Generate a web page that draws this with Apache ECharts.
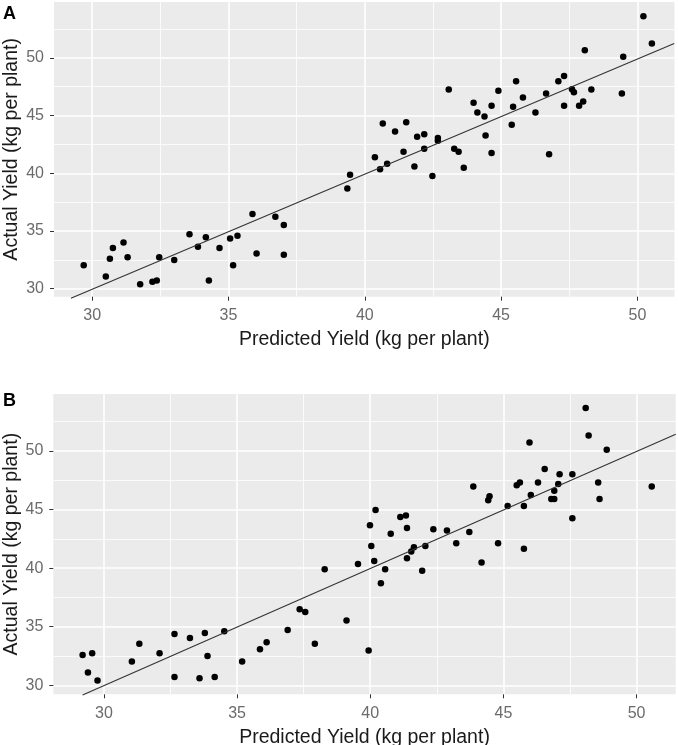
<!DOCTYPE html>
<html>
<head>
<meta charset="utf-8">
<script src="https://cdn.jsdelivr.net/npm/echarts@6/dist/echarts.min.js"></script>
<style>
  html, body { margin: 0; padding: 0; background: #fff; }
  #chart { width: 678px; height: 745px; }
</style>
</head>
<body>
<div id="chart"></div>
<script>
// panel A: predicted vs actual
var predA = [29.69, 30.50, 30.65, 30.76, 31.15, 31.30, 31.76, 32.21, 32.37, 32.46,
  33.01, 33.57, 33.88, 34.17, 34.28, 34.67, 35.06, 35.17, 35.33, 35.88,
  36.03, 36.72, 37.03, 37.03, 39.36, 39.46, 40.37, 40.56, 40.66, 40.82,
  41.11, 41.42, 41.52, 41.82, 41.92, 42.18, 42.18, 42.48, 42.68, 42.68,
  43.08, 43.28, 43.44, 43.63, 43.99, 44.13, 44.39, 44.43, 44.65, 44.65,
  44.90, 45.39, 45.44, 45.55, 45.80, 46.26, 46.65, 46.76, 47.10, 47.31,
  47.31, 47.60, 47.67, 47.86, 48.01, 48.07, 48.31, 49.43, 49.48, 50.22, 50.53]
var actA = [32.03, 31.07, 32.60, 33.52, 34.01, 32.72, 30.38, 30.61, 30.72, 32.72,
  32.48, 34.71, 33.64, 34.45, 30.72, 33.52, 34.36, 32.03, 34.59, 36.47,
  33.06, 36.24, 35.52, 32.95, 38.69, 39.87, 41.40, 40.36, 44.32, 40.83,
  43.62, 41.86, 44.43, 40.59, 43.16, 43.39, 42.12, 39.76, 43.05, 42.82,
  47.26, 42.12, 41.86, 40.48, 46.11, 45.27, 44.92, 43.28, 45.85, 41.75,
  47.15, 44.20, 45.76, 47.98, 46.57, 45.27, 46.92, 41.66, 47.98, 48.44,
  45.85, 47.29, 47.03, 45.85, 46.22, 50.67, 47.26, 46.92, 50.09, 53.61, 51.24]

// panel B
var predB = [29.20, 29.40, 29.56, 29.76, 31.05, 31.33, 32.09, 32.65, 32.65, 33.23,
  33.59, 33.79, 33.89, 34.16, 34.52, 35.19, 35.86, 36.11, 36.90, 37.35,
  37.56, 37.92, 38.29, 39.11, 39.54, 39.94, 39.99, 40.04, 40.15, 40.20,
  40.40, 40.56, 40.77, 41.13, 41.34, 41.38, 41.38, 41.54, 41.64, 41.95,
  42.07, 42.37, 42.88, 43.23, 43.72, 43.87, 44.18, 44.43, 44.48, 44.80,
  45.16, 45.50, 45.62, 45.77, 45.77, 45.98, 46.03, 46.30, 46.55, 46.80,
  46.91, 46.91, 47.06, 47.11, 47.59, 47.59, 48.09, 48.20, 48.56, 48.61, 48.88, 50.57]
var actB = [32.59, 31.08, 32.73, 30.40, 32.02, 33.55, 32.73, 34.38, 30.71, 34.04,
  30.59, 34.46, 32.50, 30.71, 34.61, 32.02, 33.07, 33.67, 34.72, 36.48,
  36.26, 33.55, 39.90, 35.52, 40.35, 32.96, 43.65, 41.89, 40.61, 44.96,
  38.70, 39.90, 42.94, 44.37, 44.48, 43.43, 40.84, 41.41, 41.78, 39.78,
  41.89, 43.31, 43.20, 42.12, 43.09, 46.96, 40.47, 45.79, 46.13, 42.12,
  45.31, 47.07, 47.30, 45.31, 41.66, 50.71, 46.24, 47.30, 48.46, 45.90,
  45.90, 46.61, 47.18, 48.01, 48.01, 44.25, 53.67, 51.31, 47.30, 45.90, 50.11, 46.96]

// fitted line end points
var lineAx = [29.22, 51.35], lineAy = [29.17, 51.25]
var lineBx = [29.20, 51.47], lineBy = [29.17, 51.42]

var majorTicks = [30, 35, 40, 45, 50]
var minorX = [32.5, 37.5, 42.5, 47.5]
var minorY = [32.5, 37.5, 42.5, 47.5, 52.5]

var xName = 'Predicted Yield (kg per plant)'
var yName = 'Actual Yield (kg per plant)'

var font = 'Liberation Sans'

function pairs(xs, ys) {
	return xs.map(function (v, i) { return [v, ys[i]] })
}

function mainAxis(idx, range, name, isY) {
	return {
		type: 'value',
		gridIndex: idx,
		min: range[0],
		max: range[1],
		name: name,
		nameLocation: 'middle',
		nameGap: isY ? 32 : 33,
		nameMoveOverlap: false,
		nameTextStyle: { fontFamily: font, fontSize: 19.5, color: '#1a1a1a' },
		axisLine: { show: false, onZero: false },
		axisTick: { show: true, length: 4, customValues: majorTicks, lineStyle: { color: '#333', width: 1 } },
		axisLabel: { customValues: majorTicks, margin: isY ? 10 : 11, fontFamily: font, fontSize: 16, color: '#6b6b6b' },
		splitLine: { show: true, lineStyle: { color: '#fff', width: 1.6 } }
	}
}

function minorAxis(idx, range, ticks) {
	return {
		type: 'value',
		gridIndex: idx,
		min: range[0],
		max: range[1],
		axisLine: { show: false, onZero: false },
		axisTick: { show: false, customValues: ticks },
		axisLabel: { show: false, customValues: ticks },
		splitLine: { show: true, lineStyle: { color: '#fff', width: 0.8 } }
	}
}

var xRangeA = [28.60, 51.36], yRangeA = [29.31, 54.84]
var xRangeB = [28.10, 51.47], yRangeB = [29.23, 54.86]

var option = {
	animation: false,
	backgroundColor: '#fff',
	title: [
		{ text: 'A', left: 3, top: 5, padding: 0, textStyle: { fontFamily: font, fontSize: 18, fontWeight: 'bold', color: '#000' } },
		{ text: 'B', left: 3, top: 392, padding: 0, textStyle: { fontFamily: font, fontSize: 18, fontWeight: 'bold', color: '#000' } }
	],
	grid: [
		{ left: 54, top: 2, width: 620.5, height: 294.7, show: true, backgroundColor: '#ebebeb', borderWidth: 0, outerBoundsMode: 'none' },
		{ left: 53.3, top: 394, width: 622.4, height: 300.3, show: true, backgroundColor: '#ebebeb', borderWidth: 0, outerBoundsMode: 'none' }
	],
	xAxis: [
		mainAxis(0, xRangeA, xName, false),
		mainAxis(1, xRangeB, xName, false),
		minorAxis(0, xRangeA, minorX),
		minorAxis(1, xRangeB, minorX)
	],
	yAxis: [
		mainAxis(0, yRangeA, yName, true),
		mainAxis(1, yRangeB, yName, true),
		minorAxis(0, yRangeA, minorY),
		minorAxis(1, yRangeB, minorY)
	],
	series: [{
		type: 'scatter',
		xAxisIndex: 0,
		yAxisIndex: 0,
		symbolSize: 6.5,
		itemStyle: { color: '#000', opacity: 1 },
		data: pairs(predA, actA),
		z: 3
	}, {
		type: 'line',
		xAxisIndex: 0,
		yAxisIndex: 0,
		clip: false,
		showSymbol: false,
		lineStyle: { color: '#333', width: 1.1 },
		data: pairs(lineAx, lineAy),
		z: 4
	}, {
		type: 'scatter',
		xAxisIndex: 1,
		yAxisIndex: 1,
		symbolSize: 6.5,
		itemStyle: { color: '#000', opacity: 1 },
		data: pairs(predB, actB),
		z: 3
	}, {
		type: 'line',
		xAxisIndex: 1,
		yAxisIndex: 1,
		clip: false,
		showSymbol: false,
		lineStyle: { color: '#333', width: 1.1 },
		data: pairs(lineBx, lineBy),
		z: 4
	}]
}

var chart = echarts.init(document.getElementById('chart'))
chart.setOption(option)
</script>
</body>
</html>
